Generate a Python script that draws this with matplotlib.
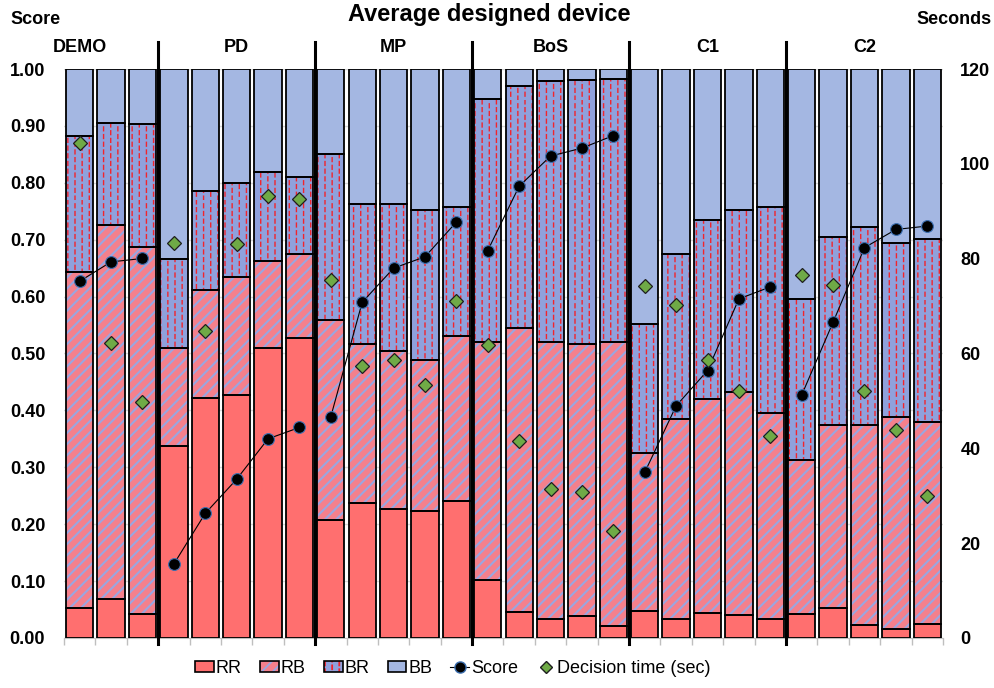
import matplotlib
matplotlib.use("Agg")
import matplotlib.pyplot as plt
from matplotlib import hatch as mhatch
from matplotlib.path import Path
from matplotlib.patches import Patch
from matplotlib.lines import Line2D
import numpy as np

plt.rcParams['font.family'] = ['Liberation Sans', 'DejaVu Sans']
plt.rcParams['hatch.linewidth'] = 1.3

groups = ['DEMO', 'PD', 'MP', 'BoS', 'C1', 'C2']
group_sizes = [3, 5, 5, 5, 5, 5]

# share of each outcome per device
rr = [0.053, 0.069, 0.043,
      0.338, 0.422, 0.427, 0.510, 0.527,
      0.208, 0.238, 0.226, 0.224, 0.240,
      0.102, 0.045, 0.033, 0.039, 0.021,
      0.048, 0.033, 0.044, 0.040, 0.034,
      0.042, 0.052, 0.023, 0.015, 0.024]
rb = [0.590, 0.656, 0.645,
      0.172, 0.189, 0.207, 0.153, 0.148,
      0.350, 0.279, 0.279, 0.264, 0.290,
      0.418, 0.499, 0.487, 0.478, 0.500,
      0.277, 0.351, 0.376, 0.392, 0.361,
      0.270, 0.323, 0.351, 0.374, 0.356]
br = [0.239, 0.180, 0.216,
      0.156, 0.174, 0.166, 0.156, 0.135,
      0.293, 0.246, 0.258, 0.265, 0.228,
      0.428, 0.426, 0.459, 0.463, 0.462,
      0.227, 0.291, 0.314, 0.321, 0.363,
      0.284, 0.329, 0.348, 0.306, 0.322]
bb = [0.118, 0.095, 0.096,
      0.334, 0.215, 0.200, 0.181, 0.190,
      0.149, 0.237, 0.237, 0.247, 0.242,
      0.052, 0.030, 0.021, 0.020, 0.017,
      0.448, 0.325, 0.266, 0.247, 0.242,
      0.404, 0.296, 0.278, 0.305, 0.298]

score = [0.627, 0.661, 0.667,
         0.130, 0.219, 0.279, 0.350, 0.370,
         0.389, 0.590, 0.650, 0.670, 0.731,
         0.681, 0.794, 0.847, 0.861, 0.883,
         0.291, 0.408, 0.470, 0.596, 0.617,
         0.427, 0.555, 0.686, 0.718, 0.724]
decision_time = [104.3, 62.2, 49.7,
                 83.3, 64.8, 83.1, 93.3, 92.5,
                 75.6, 57.4, 58.7, 53.4, 71.0,
                 61.7, 41.6, 31.4, 30.7, 22.6,
                 74.3, 70.2, 58.7, 52.1, 42.6,
                 76.6, 74.4, 52.1, 43.9, 30.0]


class DashedVerticalHatch(mhatch.HatchPatternBase):
    """'|' hatch drawn as staggered short dashes."""

    def __init__(self, hatch, density):
        self.cols = 14 if ('|' in hatch or '+' in hatch) else 0
        self.rows = 13
        self.num_vertices = self.cols * self.rows * 2

    def set_vertices_and_codes(self, vertices, codes):
        step = 1.0 / self.rows
        k = 0
        for i in range(self.cols):
            x = (i + 0.5) / self.cols
            shift = 0.5 * step * (i % 2)
            for j in range(self.rows):
                y0 = j * step + shift
                vertices[k] = (x, y0)
                vertices[k + 1] = (x, min(y0 + 0.5 * step, 1.0))
                codes[k] = Path.MOVETO
                codes[k + 1] = Path.LINETO
                k += 2


mhatch._hatch_types = [DashedVerticalHatch if t is mhatch.VerticalHatch else t
                       for t in mhatch._hatch_types]

# (face, hatch colour, hatch, hatch linewidth)
styles = {
    'RR': ('#FF6F6F', '#FF6F6F', None, 1.3),
    'RB': ('#F4808C', '#9AA6E0', '///', 1.5),
    'BR': ('#8FA1DC', '#F2242C', '|', 1.0),
    'BB': ('#A4B7E2', '#A4B7E2', None, 1.3),
}
segments = [('RR', rr), ('RB', rb), ('BR', br), ('BB', bb)]
per_patch_hatch_lw = hasattr(Patch, 'set_hatch_linewidth')

n = len(rr)
x = np.arange(n)
width = 0.87

fig = plt.figure(figsize=(9.95, 6.88), dpi=100)
ax = fig.add_axes([0.0643, 0.0727, 0.8834, 0.827])

bottom = np.zeros(n)
for name, vals in segments:
    face, hcol, hatch, hlw = styles[name]
    vals = np.array(vals)
    bars = ax.bar(x, vals, width, bottom=bottom, color=face, edgecolor=hcol,
                  hatch=hatch, linewidth=0, zorder=2)
    if per_patch_hatch_lw:
        for p in bars:
            p.set_hatch_linewidth(hlw)
    ax.bar(x, vals, width, bottom=bottom, fill=False, edgecolor='black',
           linewidth=1.3, zorder=3)
    bottom += vals

# score line, connected inside each group only
starts = np.cumsum([0] + group_sizes[:-1])
for s, size in zip(starts, group_sizes):
    ax.plot(x[s:s + size], score[s:s + size], color='black', lw=0.8,
            marker='o', markersize=8.5, markerfacecolor='black',
            markeredgecolor='#3C6FB0', markeredgewidth=0.8, zorder=5)

ax.set_xlim(-0.5, n - 0.5)
ax.set_ylim(0, 1)
ax.set_yticks(np.arange(0, 1.01, 0.1))
ax.set_yticklabels(['%.2f' % v for v in np.arange(0, 1.01, 0.1)],
                   fontsize=13, fontweight='bold')
ax.tick_params(axis='y', length=0, pad=13.5)
ax.yaxis.grid(True, color='#D9D9D9', lw=1)
ax.set_axisbelow(True)
for side in ['left', 'right', 'top']:
    ax.spines[side].set_visible(False)
ax.spines['bottom'].set_color('#BFBFBF')
ax.set_xticks(np.arange(n + 1) - 0.5)
ax.set_xticklabels([])
ax.tick_params(axis='x', length=5, color='#BFBFBF', width=1)

# group separators and labels
bounds = starts[1:] - 0.5
for b in bounds:
    ax.plot([b, b], [-0.01, 1.048], color='black', lw=2.2,
            clip_on=False, zorder=6)
centers = starts + (np.array(group_sizes) - 1) / 2.0
label_x = centers.copy()
label_x[0] = 0
for gx, g in zip(label_x, groups):
    ax.text(gx, 1.037, g, ha='center', va='center', fontsize=13,
            fontweight='bold')

ax2 = ax.twinx()
ax2.plot(x, decision_time, linestyle='none', marker='D', markersize=7,
         markerfacecolor='#6FAA46', markeredgecolor='#1E1E1E',
         markeredgewidth=0.9, zorder=5)
ax2.set_ylim(0, 120)
ax2.set_yticks(np.arange(0, 121, 20))
ax2.set_yticklabels([str(v) for v in range(0, 121, 20)], fontsize=13,
                    fontweight='bold')
ax2.tick_params(axis='y', length=0, pad=12.5)
for side in ['left', 'right', 'top', 'bottom']:
    ax2.spines[side].set_visible(False)

fig.text(0.492, 0.979, 'Average designed device', ha='center', va='center',
         fontsize=17, fontweight='bold')
fig.text(0.011, 0.972, 'Score', ha='left', va='center', fontsize=13,
         fontweight='bold')
fig.text(0.997, 0.972, 'Seconds', ha='right', va='center', fontsize=13,
         fontweight='bold')

handles = []
for name, _ in segments:
    face, hcol, hatch, hlw = styles[name]
    hp = Patch(facecolor=face, edgecolor=hcol, hatch=hatch, lw=0)
    if per_patch_hatch_lw:
        hp.set_hatch_linewidth(hlw)
    handles.append((hp, Patch(fill=False, edgecolor='black', lw=1.2)))
handles.append(Line2D([], [], color='black', lw=0.8, marker='o',
                      markersize=8, markerfacecolor='black',
                      markeredgecolor='#3C6FB0'))
handles.append(Line2D([], [], linestyle='none', marker='D', markersize=6,
                      markerfacecolor='#6FAA46', markeredgecolor='#1E1E1E'))
labels = ['RR', 'RB', 'BR', 'BB', 'Score', 'Decision time (sec)']
fig.legend(handles, labels, loc='center', bbox_to_anchor=(0.455, 0.029),
           ncol=6, frameon=False, fontsize=13, handlelength=1.05,
           handleheight=0.55, handletextpad=0.1, columnspacing=1.0)

fig.savefig('out.png', dpi=100)
